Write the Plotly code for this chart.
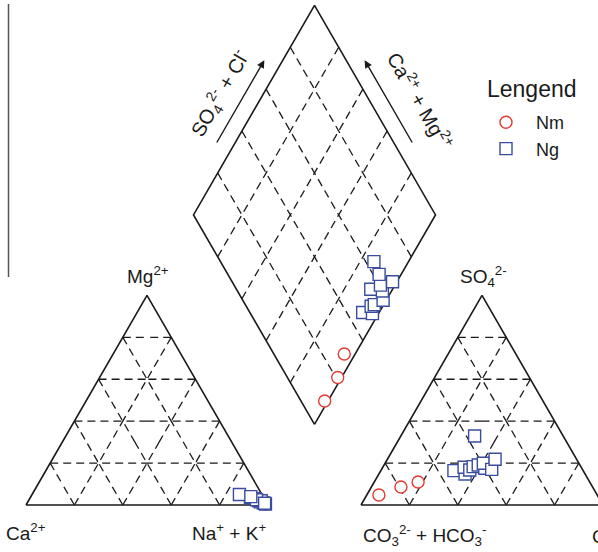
import math
import plotly.graph_objects as go

# ---------------- data (percent of meq/L) ----------------
# Ng group
ng_mg = [3.0, 1.0, 2.0, 1.5, 3.5, 0.5, 2.0, 2.5, 5.0, 4.0, 0.8]
ng_nak = [93.2, 97.5, 95.2, 96.1, 91.0, 98.7, 96.2, 94.0, 85.7, 90.9, 98.2]
ng_so4 = [16.4, 14.8, 18.0, 16.7, 18.3, 19.1, 17.5, 19.9, 32.9, 17.0, 21.8]
ng_cl = [30.2, 35.6, 33.6, 36.6, 37.2, 38.9, 42.4, 40.6, 30.5, 45.5, 44.5]
# Nm group
nm_mg = [0.5, 0.8, 2.0]
nm_nak = [98.6, 98.4, 95.5]
nm_so4 = [4.8, 8.6, 11.0]
nm_cl = [5.0, 12.2, 18.1]

grid_levels = [20, 40, 60, 80]

# ---------------- geometry (pixel-like units) ----------------
W, HGT = 598, 552
S = 242.0
GAP = 93.0
X0 = 26.0
Y0 = 505.0
H = math.sqrt(3) / 2
X1 = X0 + S + GAP
XB = X0 + S + GAP / 2
YB = Y0 - GAP / 2 * math.sqrt(3)

FONT = "Liberation Sans, Arial, sans-serif"
INK = "#1a1a1a"


def cat_xy(mg, nak):
    m, n = mg / 100.0, nak / 100.0
    return X0 + S * (n + m / 2), Y0 - S * H * m


def an_xy(so4, cl):
    s, c = so4 / 100.0, cl / 100.0
    return X1 + S * (c + s / 2), Y0 - S * H * s


def dia_xy(p, q):
    p, q = p / 100.0, q / 100.0
    return XB + S * 0.5 * (p - q), YB - S * H * (p + q)


def points(mg, nak, so4, cl):
    xs, ys = [], []
    for a, b in zip(mg, nak):
        x, y = cat_xy(a, b); xs.append(x); ys.append(y)
    for a, b in zip(so4, cl):
        x, y = an_xy(a, b); xs.append(x); ys.append(y)
    for a, b, c, d in zip(so4, cl, mg, nak):
        x, y = dia_xy(a + b, 100 - d); xs.append(x); ys.append(y)
    return xs, ys


# ---------------- frame & grid ----------------
ox, oy = [], []


def add_poly(pts, close=True):
    seq = pts + ([pts[0]] if close else [])
    for x, y in seq:
        ox.append(x); oy.append(y)
    ox.append(None); oy.append(None)


add_poly([cat_xy(0, 0), cat_xy(0, 100), cat_xy(100, 0)])
add_poly([an_xy(0, 0), an_xy(0, 100), an_xy(100, 0)])
add_poly([dia_xy(0, 0), dia_xy(0, 100), dia_xy(100, 100), dia_xy(100, 0)])

gx, gy = [], []


def add_seg(f, a, b):
    # split in two halves so that both ends start with a dash
    (x1, y1), (x2, y2) = f(*a), f(*b)
    xm, ym = (x1 + x2) / 2, (y1 + y2) / 2
    gx.extend([x1, xm, None, x2, xm, None])
    gy.extend([y1, ym, None, y2, ym, None])


for k in grid_levels:
    for f in (cat_xy, an_xy):
        add_seg(f, (k, 0), (k, 100 - k))
        add_seg(f, (0, k), (100 - k, k))
        add_seg(f, (0, 100 - k), (100 - k, 0))
    add_seg(dia_xy, (k, 0), (k, 100))
    add_seg(dia_xy, (0, k), (100, k))

fig = go.Figure()
fig.add_trace(go.Scatter(x=gx, y=gy, mode="lines", showlegend=False, hoverinfo="skip",
                         line=dict(color=INK, width=1.3, dash="8px,5px")))
fig.add_trace(go.Scatter(x=ox, y=oy, mode="lines", showlegend=False, hoverinfo="skip",
                         line=dict(color=INK, width=1.6)))

nx, ny = points(nm_mg, nm_nak, nm_so4, nm_cl)
fig.add_trace(go.Scatter(x=nx, y=ny, mode="markers", name="Nm",
                         marker=dict(symbol="circle", size=12, color="white",
                                     line=dict(color="#e23b35", width=1.4))))
gx2, gy2 = points(ng_mg, ng_nak, ng_so4, ng_cl)
fig.add_trace(go.Scatter(x=gx2, y=gy2, mode="markers", name="Ng",
                         marker=dict(symbol="square", size=12, color="white",
                                     line=dict(color="#3a4c9e", width=1.4))))

# ---------------- labels ----------------
ann = []


def label(text, x, y, xa="center", ya="middle", size=19, angle=0):
    ann.append(dict(text=text, x=x, y=y, xref="x", yref="y", showarrow=False,
                    xanchor=xa, yanchor=ya, textangle=angle,
                    font=dict(family=FONT, size=size, color=INK)))


apx, apy = cat_xy(100, 0)
label("Mg<sup>2+</sup>", apx + 1, apy - 20)
label("Ca<sup>2+</sup>", X0, Y0 + 27)
label("Na<sup>+</sup> + K<sup>+</sup>", X0 + S, Y0 + 27, xa="right")
bpx, bpy = an_xy(100, 0)
label("SO<sub>4</sub><sup>2-</sup>", bpx + 1, bpy - 19)
label("CO<sub>3</sub><sup>2-</sup> + HCO<sub>3</sub><sup>-</sup>", X1, Y0 + 30, xa="left")
label("Cl<sup>-</sup>", X1 + S - 13, Y0 + 30, xa="left")

# diamond side labels & arrows
Lx, Ly = dia_xy(0, 100)
Rx, Ry = dia_xy(100, 0)
u1, n1 = (0.5, -H), (-H, -0.5)
u2, n2 = (-0.5, -H), (H, -0.5)


def along(px, py, u, n, t, d):
    return px + S * t * u[0] + d * n[0], py + S * t * u[1] + d * n[1]


for (px, py, u, n) in ((Lx, Ly, u1, n1), (Rx, Ry, u2, n2)):
    tx, ty = along(px, py, u, n, 0.30, 16)
    hx, hy = along(px, py, u, n, 0.70, 16)
    ann.append(dict(x=hx, y=hy, ax=tx, ay=ty, xref="x", yref="y", axref="x", ayref="y",
                    text="", showarrow=True, arrowhead=2, arrowsize=1.1, arrowwidth=1.4,
                    arrowcolor=INK))

sx, sy = along(Lx, Ly, u1, n1, 0.49, 38)
label("SO<sub>4</sub><sup>2-</sup> + Cl<sup>-</sup>", sx, sy, size=20, angle=-60)
cx, cy = along(Rx, Ry, u2, n2, 0.44, 45)
label("Ca<sup>2+</sup> + Mg<sup>2+</sup>", cx, cy, size=20, angle=60)

# legend heading
ann.append(dict(text="Lengend", x=485 / W, y=1 - 89 / HGT, xref="paper", yref="paper",
                showarrow=False, xanchor="left", yanchor="middle",
                font=dict(family=FONT, size=23, color=INK)))

fig.update_layout(
    width=W, height=HGT, autosize=False,
    margin=dict(l=0, r=0, t=0, b=0),
    paper_bgcolor="white", plot_bgcolor="white",
    xaxis=dict(range=[0, W], visible=False, fixedrange=True),
    yaxis=dict(range=[HGT, 0], visible=False, fixedrange=True),
    annotations=ann,
    shapes=[dict(type="line", xref="x", yref="y", x0=8.5, x1=8.5, y0=4, y1=277,
                 line=dict(color="#555555", width=1.5))],
    legend=dict(x=476 / W, y=1 - 104 / HGT, xanchor="left", yanchor="top",
                itemwidth=50, bgcolor="rgba(0,0,0,0)",
                font=dict(family=FONT, size=18, color=INK)),
    showlegend=True,
)

fig.write_html("out.html", config={"displayModeBar": False},
               post_script="document.body.style.margin='0';document.body.style.overflow='hidden';")
